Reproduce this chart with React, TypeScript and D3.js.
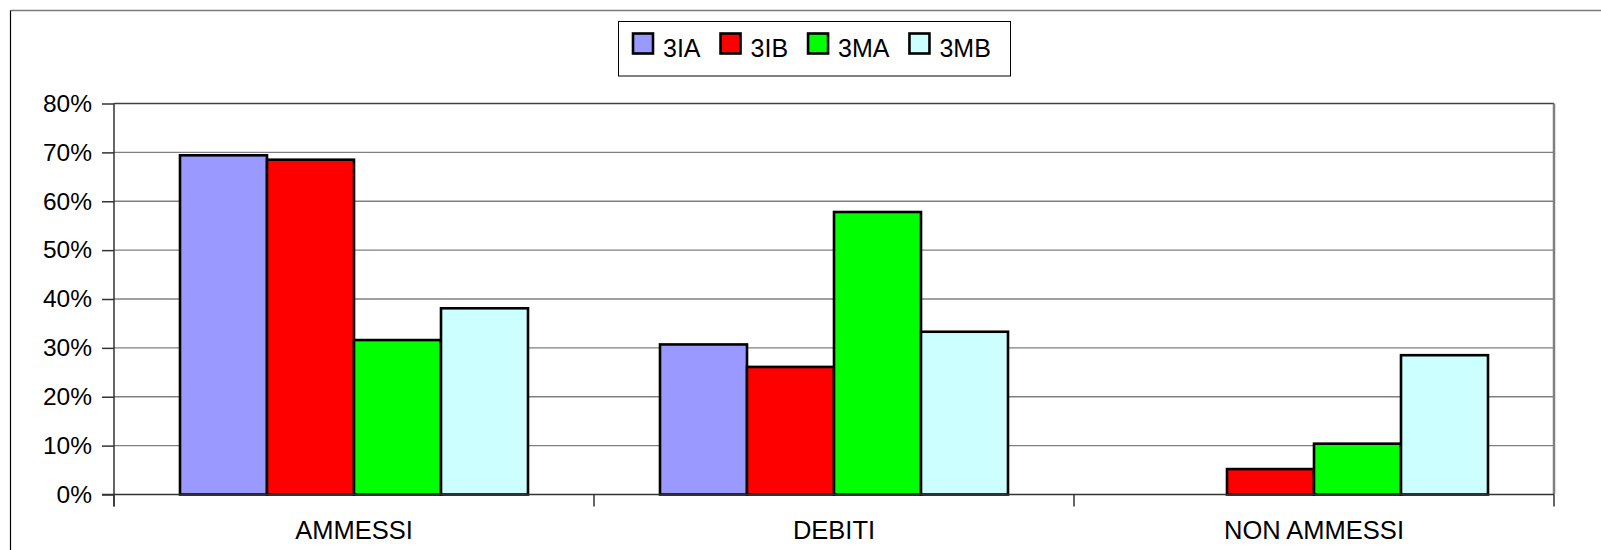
import { useEffect, useRef } from "react"
import * as d3 from "d3"

const categories = ["AMMESSI", "DEBITI", "NON AMMESSI"]
const seriesNames = ["3IA", "3IB", "3MA", "3MB"]
const seriesColors = ["#9999FF", "#FF0000", "#00FF00", "#CCFFFF"]
const values3IA = [69.4, 30.7, 0]
const values3IB = [68.5, 26.1, 5.2]
const values3MA = [31.6, 57.8, 10.4]
const values3MB = [38.1, 33.3, 28.5]
const yTicks = [0, 10, 20, 30, 40, 50, 60, 70, 80]

const seriesValues = [values3IA, values3IB, values3MA, values3MB]

const FONT = "'Liberation Sans', Arial, sans-serif"

const App = () => {
  const svgRef = useRef<SVGSVGElement>(null)

  useEffect(() => {
    if (!svgRef.current) return
    const svg = d3.select(svgRef.current)
    svg.selectAll("*").remove()

    const width = 1601
    const height = 550
    const plot = { left: 114, right: 1554, top: 103.5, bottom: 494.5 }

    // outer chart frame (cut off on right / bottom)
    svg.append("rect").attr("width", width).attr("height", height).attr("fill", "white")
    svg.append("line")
      .attr("x1", 10.5).attr("x2", width).attr("y1", 10.5).attr("y2", 10.5)
      .attr("stroke", "#7a7a7a").attr("stroke-width", 1.5)
    svg.append("line")
      .attr("x1", 10.5).attr("x2", 10.5).attr("y1", 10.5).attr("y2", height)
      .attr("stroke", "#000").attr("stroke-width", 1.2)

    const x0 = d3.scaleBand<string>().domain(categories).range([plot.left, plot.right])
    const x1 = d3
      .scaleBand<string>()
      .domain(seriesNames)
      .range([66, x0.bandwidth() - 66])
    const y = d3.scaleLinear().domain([0, 80]).range([plot.bottom, plot.top])

    // gridlines
    svg.append("g")
      .selectAll("line")
      .data(yTicks.filter((t) => t > 0))
      .enter()
      .append("line")
      .attr("x1", plot.left).attr("x2", plot.right)
      .attr("y1", (d) => y(d)).attr("y2", (d) => y(d))
      .attr("stroke", (d) => (d === 80 ? "#404040" : "#808080"))
      .attr("stroke-width", 1.3)

    // plot area right border
    svg.append("line")
      .attr("x1", plot.right).attr("x2", plot.right)
      .attr("y1", plot.top).attr("y2", plot.bottom)
      .attr("stroke", "#808080").attr("stroke-width", 2.5)

    // bars
    seriesNames.forEach((s, si) => {
      svg.append("g")
        .selectAll("rect")
        .data(categories.map((c, ci) => ({ c, v: seriesValues[si][ci] })).filter((d) => d.v > 0))
        .enter()
        .append("rect")
        .attr("x", (d) => (x0(d.c) || 0) + (x1(s) || 0))
        .attr("y", (d) => y(d.v))
        .attr("width", x1.bandwidth())
        .attr("height", (d) => y(0) - y(d.v))
        .attr("fill", seriesColors[si])
        .attr("stroke", "#000")
        .attr("stroke-width", 2.6)
    })

    // y axis
    const yAxis = svg.append("g")
      .attr("transform", `translate(${plot.left},0)`)
      .call(d3.axisLeft(y).tickValues(yTicks).tickSize(12).tickPadding(10).tickFormat((d) => `${d}%`))
    yAxis.select(".domain").attr("stroke", "#333").attr("stroke-width", 1.5)
      .attr("d", `M0,${plot.top}V${plot.bottom + 12}`)
    yAxis.selectAll(".tick line").attr("stroke", "#333").attr("stroke-width", 1.5)
    yAxis.selectAll(".tick text")
      .attr("font-family", FONT).attr("font-size", "24.5px").attr("fill", "#000")

    // x axis
    const xAxis = svg.append("g").attr("transform", `translate(0,${plot.bottom})`)
    xAxis.append("line")
      .attr("x1", plot.left - 12).attr("x2", plot.right)
      .attr("stroke", "#333").attr("stroke-width", 1.5)
    xAxis.selectAll(".sep")
      .data(categories.map((c) => x0(c) || 0).concat([plot.right]))
      .enter()
      .append("line")
      .attr("x1", (d) => d).attr("x2", (d) => d)
      .attr("y1", 0).attr("y2", 12)
      .attr("stroke", "#333").attr("stroke-width", 1.5)
    xAxis.selectAll(".lbl")
      .data(categories)
      .enter()
      .append("text")
      .attr("x", (d) => (x0(d) || 0) + x0.bandwidth() / 2)
      .attr("y", 44)
      .attr("text-anchor", "middle")
      .attr("font-family", FONT)
      .attr("font-size", "25.5px")
      .text((d) => d)

    // legend
    const legend = svg.append("g")
    legend.append("rect")
      .attr("x", 618.5).attr("y", 21.5).attr("width", 392).attr("height", 54.5)
      .attr("fill", "white").attr("stroke", "#000").attr("stroke-width", 1)
    let lx = 633
    seriesNames.forEach((s, i) => {
      legend.append("rect")
        .attr("x", lx).attr("y", 33.5).attr("width", 20).attr("height", 20)
        .attr("fill", seriesColors[i]).attr("stroke", "#000").attr("stroke-width", 2.6)
      const t = legend.append("text")
        .attr("x", lx + 30).attr("y", 56.5)
        .attr("font-family", FONT).attr("font-size", "25px")
        .text(s)
      const w = (t.node() as SVGTextElement).getComputedTextLength()
      lx += 30 + w + 20
    })
  }, [])

  return (
    <div style={{ position: "fixed", left: 0, top: 0 }}>
      <svg ref={svgRef} width={1601} height={550} style={{ display: "block" }}></svg>
    </div>
  )
}

export default App
